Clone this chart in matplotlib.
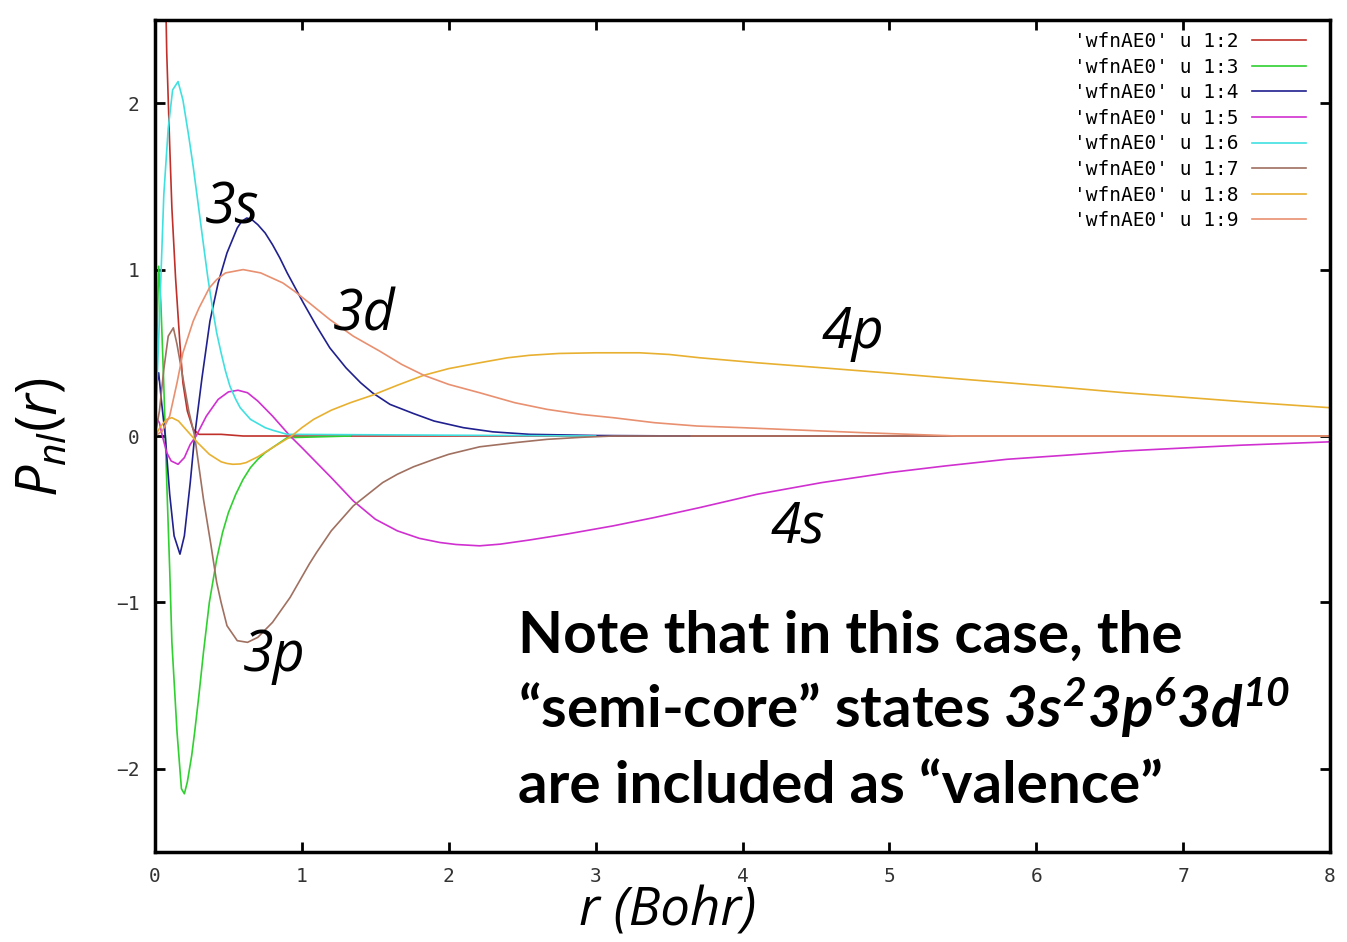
import matplotlib
matplotlib.use("Agg")
import matplotlib.pyplot as plt

# radial wavefunctions (r in Bohr)
r_c2 = [0, 0.005, 0.01, 0.02, 0.033, 0.05, 0.065, 0.08, 0.1, 0.115, 0.14, 0.17, 0.19, 0.22, 0.26, 0.3, 0.45, 0.6, 8.0]
p_c2 = [0, 1.9, 3.0, 3.9, 4.0, 3.6, 3.0, 2.3, 1.75, 1.37, 0.95, 0.55, 0.32, 0.15, 0.04, 0.01, 0.01, 0.0, 0.0]

r_c3 = [0, 0.01, 0.025, 0.04, 0.06, 0.08, 0.1, 0.115, 0.15, 0.18, 0.2, 0.22, 0.25, 0.27, 0.3, 0.33, 0.37,
        0.42, 0.46, 0.5, 0.55, 0.6, 0.65, 0.7, 0.75, 0.8, 0.9, 1.33]
p_c3 = [0, 0.5, 1.02, 0.8, 0.3, -0.28, -0.8, -1.24, -1.78, -2.12, -2.15, -2.08, -1.92, -1.78, -1.55, -1.3, -1.0,
        -0.74, -0.58, -0.46, -0.35, -0.26, -0.19, -0.14, -0.1, -0.07, -0.01, 0.0]

r_c4 = [0, 0.01, 0.025, 0.045, 0.07, 0.1, 0.13, 0.17, 0.2, 0.24, 0.27, 0.32, 0.374, 0.43, 0.49, 0.56, 0.59,
        0.625, 0.66, 0.7, 0.75, 0.8, 0.85, 0.9, 1.01, 1.1, 1.19, 1.3, 1.4, 1.48, 1.6, 1.76, 1.9, 2.1, 2.3,
        2.55, 3.0, 3.64]
p_c4 = [0, 0.3, 0.38, 0.2, 0.0, -0.35, -0.6, -0.71, -0.6, -0.28, 0.0, 0.35, 0.69, 0.92, 1.1, 1.25, 1.29,
        1.31, 1.3, 1.27, 1.22, 1.15, 1.07, 0.98, 0.8, 0.66, 0.53, 0.41, 0.32, 0.26, 0.19, 0.135, 0.09, 0.05, 0.025,
        0.01, 0.003, 0.0]

r_c5 = [0, 0.015, 0.03, 0.05, 0.08, 0.11, 0.157, 0.2, 0.24, 0.28, 0.35, 0.43, 0.5, 0.565, 0.63, 0.7, 0.8, 0.86,
        0.92, 1.0, 1.1, 1.2, 1.35, 1.5, 1.65, 1.8, 1.94, 2.05, 2.21, 2.35, 2.55, 2.8, 3.12, 3.4, 3.71, 4.1,
        4.54, 5.0, 5.38, 5.8, 6.21, 6.6, 7.05, 7.4, 8.0]
p_c5 = [0, 0.1, 0.08, 0.0, -0.1, -0.15, -0.17, -0.13, -0.05, 0.0, 0.12, 0.22, 0.265, 0.275, 0.26, 0.21, 0.12, 0.06,
        0.0, -0.07, -0.16, -0.25, -0.39, -0.5, -0.57, -0.615, -0.64, -0.652, -0.66, -0.65, -0.625, -0.59, -0.54,
        -0.49, -0.43, -0.35, -0.28, -0.22, -0.18, -0.14, -0.115, -0.09, -0.07, -0.055, -0.035]

r_c6 = [0, 0.03, 0.06, 0.09, 0.12, 0.157, 0.19, 0.23, 0.26, 0.29, 0.33, 0.36, 0.395, 0.42, 0.45, 0.48, 0.51,
        0.55, 0.58, 0.62, 0.65, 0.7, 0.75, 0.8, 0.9, 3.0]
p_c6 = [0, 0.7, 1.45, 1.85, 2.08, 2.13, 2.02, 1.8, 1.62, 1.42, 1.15, 0.95, 0.75, 0.62, 0.5, 0.39, 0.3,
        0.22, 0.17, 0.13, 0.1, 0.075, 0.05, 0.035, 0.01, 0.0]

r_c7 = [0, 0.03, 0.06, 0.09, 0.125, 0.15, 0.19, 0.23, 0.27, 0.33, 0.38, 0.42, 0.45, 0.49, 0.56, 0.63, 0.7,
        0.8, 0.92, 1.05, 1.1, 1.2, 1.35, 1.55, 1.65, 1.76, 1.9, 2.0, 2.21, 2.45, 2.67, 2.9, 3.12, 8.0]
p_c7 = [0, 0.15, 0.4, 0.6, 0.65, 0.55, 0.35, 0.15, 0.0, -0.38, -0.65, -0.88, -1.0, -1.14, -1.23, -1.24, -1.21,
        -1.12, -0.97, -0.77, -0.7, -0.57, -0.42, -0.28, -0.23, -0.185, -0.14, -0.11, -0.065, -0.04, -0.02,
        -0.008, 0.0, 0.0]

r_c8 = [0, 0.04, 0.08, 0.115, 0.16, 0.22, 0.29, 0.37, 0.45, 0.49, 0.53, 0.58, 0.62, 0.7, 0.8, 0.93, 1.0, 1.08,
        1.2, 1.33, 1.48, 1.65, 1.83, 2.0, 2.21, 2.4, 2.55, 2.75, 3.0, 3.3, 3.5, 3.71, 4.1, 4.54, 5.0, 5.38,
        5.8, 6.21, 6.6, 7.05, 7.5, 8.0]
p_c8 = [0, 0.06, 0.1, 0.11, 0.09, 0.03, -0.04, -0.11, -0.155, -0.165, -0.17, -0.168, -0.16, -0.125, -0.07, 0.0,
        0.05, 0.1, 0.155, 0.2, 0.245, 0.305, 0.365, 0.405, 0.44, 0.47, 0.485, 0.496, 0.5, 0.5, 0.49, 0.47, 0.44,
        0.41, 0.378, 0.35, 0.32, 0.29, 0.26, 0.23, 0.2, 0.17]

r_c9 = [0, 0.05, 0.1, 0.15, 0.19, 0.26, 0.3, 0.37, 0.42, 0.48, 0.6, 0.72, 0.87, 0.95, 1.05, 1.19, 1.35, 1.53,
        1.68, 1.83, 2.0, 2.21, 2.45, 2.67, 2.9, 3.12, 3.4, 3.69, 4.0, 4.27, 4.82, 5.46, 8.0]
p_c9 = [0, 0.03, 0.12, 0.32, 0.5, 0.69, 0.77, 0.89, 0.94, 0.98, 1.0, 0.98, 0.92, 0.87, 0.8, 0.7, 0.6, 0.51,
        0.43, 0.365, 0.31, 0.26, 0.2, 0.16, 0.13, 0.11, 0.08, 0.06, 0.05, 0.04, 0.02, 0.0, 0.0]

series = [(r_c2, p_c2, "'wfnAE0' u 1:2", "#c0302a"),
          (r_c3, p_c3, "'wfnAE0' u 1:3", "#30d030"),
          (r_c4, p_c4, "'wfnAE0' u 1:4", "#20208f"),
          (r_c5, p_c5, "'wfnAE0' u 1:5", "#d030d0"),
          (r_c6, p_c6, "'wfnAE0' u 1:6", "#40e0e0"),
          (r_c7, p_c7, "'wfnAE0' u 1:7", "#a07060"),
          (r_c8, p_c8, "'wfnAE0' u 1:8", "#e8b030"),
          (r_c9, p_c9, "'wfnAE0' u 1:9", "#e89070")]

orbital_labels = ["3s", "3d", "4p", "4s", "3p"]
label_pos = [(0.34, 1.28), (1.21, 0.635), (4.54, 0.53), (4.19, -0.64), (0.6, -1.41)]

plt.rcParams['mathtext.fontset'] = 'custom'
plt.rcParams['mathtext.rm'] = 'Open Sans'
plt.rcParams['mathtext.it'] = 'Open Sans:italic'
plt.rcParams['mathtext.bf'] = 'Lato:bold'
plt.rcParams['mathtext.bfit'] = 'Lato:italic:bold'

fig = plt.figure(figsize=(13.47, 9.42), dpi=100)
ax = fig.add_axes([155/1347, 90/942, 1175/1347, 832/942])

for r, p, lab, col in series:
    ax.plot(r, p, color=col, lw=1.2, label=lab)

ax.set_xlim(0, 8)
ax.set_ylim(-2.5, 2.5)
ax.set_xticks(range(0, 9))
ax.set_yticks([-2, -1, 0, 1, 2])
ax.tick_params(direction='in', length=7, width=2, top=True, right=True,
               labelsize=14, labelcolor='#333333', pad=11)
for lbl in ax.get_xticklabels() + ax.get_yticklabels():
    lbl.set_family('DejaVu Sans Mono')
for s in ax.spines.values():
    s.set_linewidth(2.5)

leg = ax.legend(loc='upper right', bbox_to_anchor=(1306/1347, 1 - 32/942), bbox_transform=fig.transFigure,
                frameon=False, markerfirst=False, borderaxespad=0, borderpad=0,
                prop={'family': 'DejaVu Sans Mono', 'size': 14}, handlelength=2.8,
                handletextpad=0.65, labelspacing=0.34)

for txt, (x, y) in zip(orbital_labels, label_pos):
    ax.text(x, y, txt, fontsize=40, family='Open Sans', style='italic', va='baseline', ha='left')

fig.text(668/1347, 1 - 925/942, "r (Bohr)", fontsize=38, family='Open Sans', style='italic',
         ha='center', va='baseline')
fig.text(42/1347, 1 - 437/942, r"$P_{nl}(r)$", fontsize=40, rotation=90, ha='center', va='center')

note_x = 2.47
ax.text(note_x, -1.30, "Note that in this case, the", fontsize=42, family='Lato', weight='bold', va='baseline')
ax.text(note_x, -1.755, "\u201csemi-core\u201d states $\\mathbfit{3s^23p^63d^{10}}$", fontsize=42,
        family='Lato', weight='bold', va='baseline')
ax.text(note_x, -2.205, "are included as \u201cvalence\u201d", fontsize=42, family='Lato', weight='bold',
        va='baseline')

fig.savefig("out.png", dpi=100)
